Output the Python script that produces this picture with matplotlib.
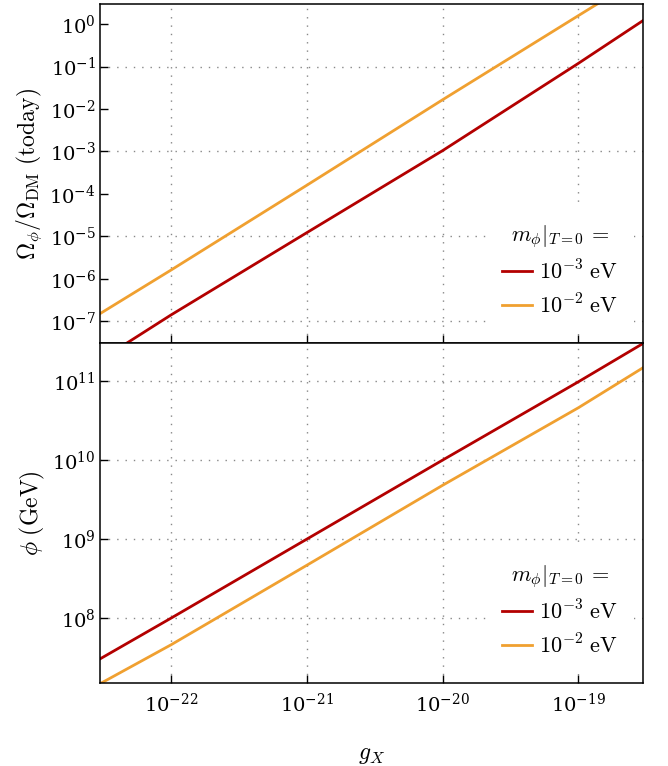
import numpy as np
import matplotlib
matplotlib.use("Agg")
import matplotlib.pyplot as plt
from matplotlib.ticker import FixedLocator, LogFormatterSciNotation

plt.rcParams['mathtext.fontset'] = 'cm'
plt.rcParams['font.family'] = 'serif'
plt.rcParams['font.serif'] = ['DejaVu Serif']
plt.rcParams['axes.unicode_minus'] = True

# ---- data ----
g_x = [3e-23, 1e-22, 1e-21, 1e-20, 1e-19, 3e-19]
omega_m3 = [1.2e-8, 1.4e-7, 1.22e-5, 1.05e-3, 0.12, 1.23]
omega_m2 = [1.5e-7, 1.6e-6, 1.6e-4, 1.66e-2, 1.6, 14.0]
phi_m3 = [3.05e7, 1.0e8, 1.0e9, 1.0e10, 0.98e11, 3.0e11]
phi_m2 = [1.48e7, 4.6e7, 4.67e8, 4.8e9, 4.6e10, 1.48e11]
mass_labels = [r'$10^{-3}\ \mathrm{eV}$', r'$10^{-2}\ \mathrm{eV}$']
legend_title = r'$m_\phi|_{T=0}\,=$'

red = '#b30000'
orange = '#f0a030'

fig = plt.figure(figsize=(6.68, 7.66), dpi=100)
ax1 = fig.add_axes([0.1497, 0.5518, 0.8133, 0.4430])
ax2 = fig.add_axes([0.1497, 0.1080, 0.8133, 0.4438], sharex=ax1)

fs = 14

ax1.plot(g_x, omega_m3, color=red, lw=2.0, label=mass_labels[0])
ax1.plot(g_x, omega_m2, color=orange, lw=2.0, label=mass_labels[1])
ax2.plot(g_x, phi_m3, color=red, lw=2.0, label=mass_labels[0])
ax2.plot(g_x, phi_m2, color=orange, lw=2.0, label=mass_labels[1])

for ax in (ax1, ax2):
    ax.set_xscale('log')
    ax.set_yscale('log')
    ax.set_xlim(3e-23, 3e-19)
    for s in ax.spines.values():
        s.set_linewidth(1.1)

ax1.set_ylim(3e-8, 3)
ax2.set_ylim(1.5e7, 3e11)

xt = [1e-22, 1e-21, 1e-20, 1e-19]
for ax in (ax1, ax2):
    ax.xaxis.set_major_locator(FixedLocator(xt))
    ax.xaxis.set_minor_locator(FixedLocator([]))

# top panel: grid only at odd decades, labels at every decade
ax1.yaxis.set_major_locator(FixedLocator([10.0**k for k in (-7, -5, -3, -1)]))
ax1.yaxis.set_minor_locator(FixedLocator([10.0**k for k in (-6, -4, -2, 0)]))
ax1.yaxis.set_major_formatter(LogFormatterSciNotation())
ax1.yaxis.set_minor_formatter(LogFormatterSciNotation())

ax2.yaxis.set_major_locator(FixedLocator([1e8, 1e9, 1e10, 1e11]))
ax2.yaxis.set_minor_locator(FixedLocator([]))
ax2.yaxis.set_major_formatter(LogFormatterSciNotation())

for ax in (ax1, ax2):
    ax.tick_params(which='both', direction='in', length=6, width=1.0,
                   labelsize=fs, top=False, right=False)
    ax.tick_params(axis='y', which='both', pad=3)
    ax.tick_params(axis='x', which='both', pad=7)
    ax.grid(True, which='major', linestyle=(0, (1, 5)), color='#888888', lw=1.0)
    ax.set_axisbelow(True)

plt.setp(ax1.get_xticklabels(), visible=False)

ax1.set_ylabel(r'$\Omega_\phi/\Omega_{\rm DM}\ \mathrm{(today)}$', fontsize=17, labelpad=4)
ax2.set_ylabel(r'$\phi\ \mathrm{(GeV)}$', fontsize=17, labelpad=4)
ax2.set_xlabel(r'$g_X$', fontsize=17, labelpad=19)

for ax in (ax1, ax2):
    leg = ax.legend(loc='lower right', title=legend_title, fontsize=16,
                    title_fontsize=16, frameon=True, framealpha=1.0,
                    edgecolor='none', facecolor='white', handlelength=1.35,
                    handletextpad=0.3, borderpad=0.7, labelspacing=0.45,
                    borderaxespad=0.43, fancybox=False)
    leg.get_frame().set_linewidth(0)

fig.savefig('out.png', dpi=100)
